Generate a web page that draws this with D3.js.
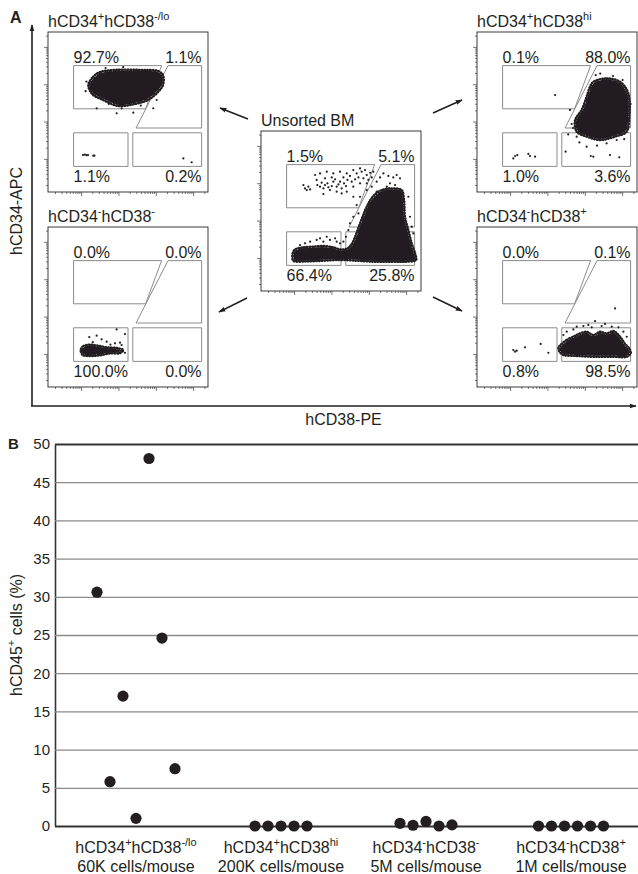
<!DOCTYPE html>
<html>
<head>
<meta charset="utf-8">
<script src="https://cdn.jsdelivr.net/npm/d3@7"></script>
<style>
  body { margin: 0; background: #fff; }
  svg { display: block; font-family: "Liberation Sans", Arial, sans-serif; }
</style>
</head>
<body>
<div id="chart"></div>
<script>
// ---------- panel A: sorted populations (titles as [text, sup, text, sup]) ----------
var titleTL = ['hCD34', '+', 'hCD38', '-/lo'];
var titleTR = ['hCD34', '+', 'hCD38', 'hi'];
var titleBL = ['hCD34', '-', 'hCD38', '-'];
var titleBR = ['hCD34', '-', 'hCD38', '+'];
var titleC = ['Unsorted BM'];

// gate percentages: upper-left, upper-right, lower-left, lower-right
var pctTL = ['92.7%', '1.1%', '1.1%', '0.2%'];
var pctTR = ['0.1%', '88.0%', '1.0%', '3.6%'];
var pctC = ['1.5%', '5.1%', '66.4%', '25.8%'];
var pctBL = ['0.0%', '0.0%', '100.0%', '0.0%'];
var pctBR = ['0.0%', '0.1%', '0.8%', '98.5%'];

// gates in plot units (0-100 both axes, y up)
var gateUL = [[16, 79], [71, 79], [61, 52], [16, 52]];
var gateUR = [[75, 79], [96, 79], [96, 40], [55, 40]];
var gateLL = [[16, 37], [50, 37], [50, 16], [16, 16]];
var gateLR = [[53, 37], [96, 37], [96, 16], [53, 16]];

// dense event clouds (outline, plot units) and sparse events
var cloudTL = [[25.2, 66.9], [28.1, 71.9], [32.5, 75], [41.9, 76.3], [57.5, 76.3], [68.8, 75.6], [71.9, 73.1],
  [71.9, 66.9], [68.8, 62.5], [62.5, 57.5], [54.4, 55], [43.8, 53.8], [34.4, 57.5], [27.5, 61.3]];
var dotsTL = [[42.9, 49.2], [53.3, 49.6], [30.4, 52.3], [55.4, 75.8], [61.7, 75.2], [26.3, 64.8], [67.9, 57.5],
  [65.8, 52.3], [46, 52.3], [24, 69], [23.5, 63], [36, 77.5], [47, 78], [71, 70], [70, 64], [38, 55], [58, 54],
  [21.9, 23.1], [23, 23.4], [24, 23], [25, 23.1], [28.3, 22.7], [29, 22.7], [84.6, 21], [89.8, 18.6]];

var cloudTR = [[72.7, 68.9], [81, 71], [89.4, 68.9], [94.6, 61.7], [95.2, 47.1], [93.5, 37.7], [86.3, 34.6],
  [76.9, 32.5], [68.5, 34.6], [62.3, 37.7], [61.3, 45], [65.4, 51.3], [68.5, 59.6], [70.6, 65.8]];
var dotsTR = [[74.2, 73.1], [48.8, 60.6], [59.2, 42.5], [62.3, 34.6], [55.4, 25.2], [71.1, 22.5], [72.7, 22.1],
  [83.1, 23.1], [88.9, 21.7], [81, 30.4], [87.3, 32.5], [68.5, 28.3], [58.1, 51.3], [77, 74], [85, 72.5],
  [91, 70], [96, 55], [60, 40], [64, 31], [75, 29], [92, 33], [57, 36],
  [22.7, 21], [23.8, 22.5], [25.2, 23.1], [32.1, 23.8], [33.1, 22.5], [36.3, 22.1]];

var cloudC = [[20.2, 18.9], [19.8, 23.5], [21.3, 26], [26.5, 27.3], [32.7, 27.7], [39, 28.1], [45.2, 27.3],
  [49.4, 26], [53.6, 26.4], [56.7, 29.4], [58.8, 33.9], [61.9, 42.3], [66.1, 52.7], [70.2, 59.4], [75.4, 63.1],
  [81.7, 64.1], [87.9, 63.1], [89.4, 56.9], [90, 46.4], [92.1, 38.1], [94.2, 29.8], [96.3, 23.5], [96.9, 19.4],
  [91.1, 18.3], [80.6, 18.3], [70.2, 18.3], [59.8, 18.9], [49.4, 19.4], [39, 18.9], [28.6, 18.5]];
var dotsC = [[26.5, 66.2], [27.5, 64.1], [29.6, 65.2], [28.6, 63.1], [30.7, 63.5], [34.8, 69.4], [35.2, 66.2],
  [36.9, 65.2], [37.9, 67.7], [39, 64.1], [40, 66.2], [41.5, 67.3], [42.1, 64.8], [43.1, 63.1], [44.2, 65.6],
  [45.2, 68.3], [46.3, 69.8], [47.3, 65.2], [48.4, 66.6], [49.4, 68.3], [50.4, 64.1], [51.5, 71], [51.9, 67.3],
  [53.1, 65.6], [54, 69.4], [55.6, 71.9], [56.7, 68.3], [57.7, 65.2], [58.8, 69.8], [59.8, 73.5], [60.9, 71],
  [61.9, 67.3], [62.9, 74.6], [64, 70.4], [65, 75.6], [66.1, 72.5], [67.1, 69.4], [68.2, 73.9], [69.2, 71],
  [70.2, 74.6], [50.4, 61], [47.3, 62.1], [53.6, 62.1], [57.7, 58.9], [39, 60.6], [33.8, 72.5], [36.9, 73.5],
  [41.1, 74.6], [45.2, 73.5], [49.4, 74.6], [57.7, 75.6], [61.9, 76.6], [53.6, 73.5], [44.2, 71], [40, 70.4],
  [76.5, 73.5], [79.6, 71.9], [82.7, 71], [84.8, 72.5], [86.9, 70.4], [72.3, 68.3], [69.2, 65.2], [66.1, 63.1],
  [61.9, 58.9], [59.8, 53.7], [57.7, 46.4], [55.6, 42.3], [54.6, 38.1], [53.1, 33.9], [51.5, 30.8], [92.1, 58.9],
  [93.1, 46.4], [94.2, 40.2], [95.2, 36], [49.4, 29.8], [47.3, 30.8], [43.1, 31.9], [39, 30.8], [34.8, 31.9],
  [30.7, 30.8], [27.5, 29.8], [24.4, 28.7], [41.1, 33.9], [36.9, 32.9], [46.3, 32.9], [66.1, 67.3], [74.4, 71],
  [78.6, 65.2], [83.8, 66.2], [70.2, 56.9], [72.3, 62.1], [80.6, 67.3], [84.8, 63.1], [68.2, 54.8], [65, 50.6],
  [62.9, 44.4], [60.9, 48.5]];

var cloudBL = [[20.4, 23.1], [22.1, 25.6], [26.25, 26.4], [31.5, 25.8], [36.7, 24.8], [42.9, 24.4], [47.1, 23.1],
  [45, 21.2], [38.75, 21], [32.5, 19.8], [26.25, 19.4], [21.7, 20]];
var dotsBL = [[42.9, 36], [48.1, 33.1], [25.8, 31.2], [30.4, 32.1], [33.5, 29.8], [36.7, 28.3], [41.9, 27.3],
  [46, 26.25], [48.1, 21.4], [45, 27.7], [28, 28], [39, 26.5]];

var cloudBR = [[51.9, 26], [56.1, 29.5], [60.2, 31.5], [64.4, 33.5], [68.6, 34.5], [72.7, 32.5], [76.9, 34.5],
  [81.1, 33.5], [85.2, 35], [89.4, 31.5], [92.5, 27], [95.2, 24], [96.1, 21], [93.6, 18.9], [85.2, 18.9],
  [72.7, 18.9], [62.3, 19.4], [54, 20], [51.5, 22.1], [50.9, 24.5]];
var dotsBR = [[86.3, 49.1], [73.8, 41.2], [69.6, 38.8], [77.9, 38.1], [84.2, 37.7], [88.4, 37.3], [62.3, 37.7],
  [66.5, 38.1], [60.2, 36], [56.1, 34.6], [91.5, 34.6], [93.6, 31.4], [54, 32.5], [80, 39.4], [71.7, 37.3],
  [22.7, 23.1], [23.8, 22.1], [24.8, 22.7], [30, 24.8], [39.8, 26.9], [44.6, 21.4]];

// ---------- panel B: engraftment ----------
var categories = ['CD34+CD38-/lo', 'CD34+CD38hi', 'CD34-CD38-', 'CD34-CD38+'];
var catNames = [['hCD34', '+', 'hCD38', '-/lo'], ['hCD34', '+', 'hCD38', 'hi'],
  ['hCD34', '-', 'hCD38', '-'], ['hCD34', '-', 'hCD38', '+']];
var catDoses = ['60K cells/mouse', '200K cells/mouse', '5M cells/mouse', '1M cells/mouse'];
var engraftLo = [30.6, 5.8, 17.0, 1.0, 48.1, 24.6, 7.5];
var engraftHi = [0, 0, 0, 0, 0];
var engraftNeg = [0.35, 0.1, 0.6, 0.0, 0.15];
var engraftPos = [0, 0, 0, 0, 0, 0];
var yTicks = [0, 5, 10, 15, 20, 25, 30, 35, 40, 45, 50];

// ---------- drawing ----------
var W = 638, H = 874, S = 160;
var ink = '#231f20';
var svg = d3.select('#chart').append('svg').attr('width', W).attr('height', H);
var defs = svg.append('defs');

defs.append('marker')
  .attr('id', 'head').attr('viewBox', '0 0 10 10')
  .attr('refX', 9).attr('refY', 5)
  .attr('markerWidth', 7).attr('markerHeight', 7)
  .attr('markerUnits', 'userSpaceOnUse')
  .attr('orient', 'auto')
  .append('path').attr('d', 'M0,1.5L10,5L0,8.5Z').attr('fill', ink);

// speckled fill for the loose rim of a cloud, eroded solid for its core
var pat = defs.append('pattern').attr('id', 'speck')
  .attr('width', 4).attr('height', 4).attr('patternUnits', 'userSpaceOnUse');
[[1, 1], [3, 1.8], [1.8, 3.2], [3.6, 3.8]].forEach(function (c) {
  pat.append('circle').attr('cx', c[0]).attr('cy', c[1]).attr('r', 1).attr('fill', ink);
});
defs.append('filter').attr('id', 'erode')
  .append('feMorphology').attr('operator', 'erode').attr('radius', 1.3);

function richText(sel, parts, size) {
  parts.forEach(function (p, i) {
    var t = sel.append('tspan').text(p);
    if (i % 2) t.attr('font-size', Math.round(size * 0.66)).attr('dy', -size * 0.42);
    else if (i) t.attr('dy', size * 0.42);
  });
  return sel;
}

function flowPanel(px, py, title, pct, cloud, dots) {
  var g = svg.append('g').attr('transform', 'translate(' + px + ',' + py + ')');
  var x = d3.scaleLinear().domain([0, 100]).range([0, S]);
  var y = d3.scaleLinear().domain([0, 100]).range([S, 0]);
  var lx = d3.scaleLog().domain([1.3, 25000]).range([0, S]);
  var ly = d3.scaleLog().domain([1.3, 25000]).range([S, 0]);

  function major(d) { return Math.abs(Math.log10(d) % 1) < 1e-6; }

  var ab = g.append('g').attr('transform', 'translate(0,' + S + ')')
    .call(d3.axisBottom(lx).tickFormat('').tickSizeOuter(0));
  var al = g.append('g').call(d3.axisLeft(ly).tickFormat('').tickSizeOuter(0));
  ab.selectAll('.tick line').attr('y2', function (d) { return major(d) ? 4 : 2; });
  al.selectAll('.tick line').attr('x2', function (d) { return major(d) ? -4 : -2; });
  [ab, al].forEach(function (a) {
    a.select('.domain').remove();
    a.selectAll('.tick line').attr('stroke', '#555').attr('stroke-width', 0.8);
  });

  var poly = d3.line().x(function (d) { return x(d[0]); }).y(function (d) { return y(d[1]); });
  [gateUL, gateUR, gateLL, gateLR].forEach(function (gt) {
    g.append('path').attr('d', poly(gt) + 'Z')
      .attr('fill', 'none').attr('stroke', '#8c8c8c').attr('stroke-width', 1);
  });

  if (cloud) {
    var smooth = d3.line().x(function (d) { return x(d[0]); }).y(function (d) { return y(d[1]); })
      .curve(d3.curveCatmullRomClosed.alpha(0.5));
    var dPath = smooth(cloud);
    g.append('path').attr('d', dPath).attr('fill', 'url(#speck)')
      .attr('stroke', ink).attr('stroke-width', 2.4)
      .attr('stroke-dasharray', '0.6 2.2').attr('stroke-linecap', 'round');
    g.append('path').attr('d', dPath).attr('fill', ink).attr('filter', 'url(#erode)');
  }
  g.selectAll('circle.ev').data(dots).enter().append('circle')
    .attr('class', 'ev')
    .attr('cx', function (d) { return x(d[0]); })
    .attr('cy', function (d) { return y(d[1]); })
    .attr('r', 1.1).attr('fill', ink);

  g.append('rect').attr('width', S).attr('height', S)
    .attr('fill', 'none').attr('stroke', '#3a3a3a').attr('stroke-width', 1);

  richText(g.append('text').attr('x', 0).attr('y', -5)
    .attr('font-size', 16).attr('fill', ink), title, 16);

  var pos = [[16, 80.6, 'start'], [96, 80.6, 'end'], [16, 6.2, 'start'], [96, 6.2, 'end']];
  pct.forEach(function (t, i) {
    g.append('text').attr('x', x(pos[i][0])).attr('y', y(pos[i][1]))
      .attr('text-anchor', pos[i][2]).attr('font-size', 16).attr('fill', ink).text(t);
  });
}

// big axes of panel A
svg.append('line').attr('x1', 32).attr('y1', 406).attr('x2', 32).attr('y2', 25)
  .attr('stroke', ink).attr('stroke-width', 1.6).attr('marker-end', 'url(#head)');
svg.append('line').attr('x1', 31).attr('y1', 406).attr('x2', 636).attr('y2', 406)
  .attr('stroke', ink).attr('stroke-width', 1.6).attr('marker-end', 'url(#head)');

flowPanel(48, 32, titleTL, pctTL, cloudTL, dotsTL);
flowPanel(477, 32, titleTR, pctTR, cloudTR, dotsTR);
flowPanel(261, 131, titleC, pctC, cloudC, dotsC);
flowPanel(48, 227, titleBL, pctBL, cloudBL, dotsBL);
flowPanel(477, 227, titleBR, pctBR, cloudBR, dotsBR);

// arrows from unsorted to sorted
[[248, 119, 220, 108], [433, 113, 462, 100], [247, 298, 219, 312], [433, 297, 462, 311]].forEach(function (a) {
  svg.append('line').attr('x1', a[0]).attr('y1', a[1]).attr('x2', a[2]).attr('y2', a[3])
    .attr('stroke', ink).attr('stroke-width', 1.5).attr('marker-end', 'url(#head)');
});

svg.append('text').attr('x', 10).attr('y', 23).attr('font-size', 16).attr('font-weight', 'bold')
  .attr('fill', ink).text('A');
svg.append('text').attr('transform', 'translate(22,211) rotate(-90)').attr('text-anchor', 'middle')
  .attr('font-size', 16).attr('fill', ink).text('hCD34-APC');
svg.append('text').attr('x', 343.5).attr('y', 425).attr('text-anchor', 'middle')
  .attr('font-size', 16).attr('fill', ink).text('hCD38-PE');

// ---------- panel B ----------
var yB = d3.scaleLinear().domain([0, 50]).range([826, 444]);
var xB = d3.scalePoint().domain(categories).range([136, 571]);
var left = 55;

var gy = svg.append('g').attr('transform', 'translate(' + left + ',0)')
  .call(d3.axisLeft(yB).tickValues(yTicks).tickSizeInner(-(W - left)).tickSizeOuter(0).tickPadding(5));
gy.select('.domain').attr('stroke', '#333').attr('stroke-width', 1.6);
gy.selectAll('.tick line')
  .attr('stroke', function (d) { return d === 0 || d === 50 ? '#333' : '#8a8a8a'; })
  .attr('stroke-width', function (d) { return d === 0 || d === 50 ? 1.8 : 1.3; });
gy.selectAll('.tick text').attr('font-size', 15).attr('fill', ink)
  .attr('font-family', '"Liberation Sans", Arial, sans-serif');

var groups = [engraftLo, engraftHi, engraftNeg, engraftPos];
groups.forEach(function (vals, gi) {
  var cx = xB(categories[gi]);
  svg.append('g').selectAll('circle').data(vals).enter().append('circle')
    .attr('cx', function (d, i) { return cx + (i - (vals.length - 1) / 2) * 13; })
    .attr('cy', function (d) { return yB(d); })
    .attr('r', 5.6).attr('fill', ink);

  richText(svg.append('text').attr('x', cx).attr('y', 853).attr('text-anchor', 'middle')
    .attr('font-size', 16).attr('fill', ink), catNames[gi], 16);
  svg.append('text').attr('x', cx).attr('y', 872).attr('text-anchor', 'middle')
    .attr('font-size', 16).attr('fill', ink).text(catDoses[gi]);
});

svg.append('text').attr('x', 8).attr('y', 449).attr('font-size', 15).attr('font-weight', 'bold')
  .attr('fill', ink).text('B');
richText(svg.append('text').attr('transform', 'translate(22,635) rotate(-90)').attr('text-anchor', 'middle')
  .attr('font-size', 16).attr('fill', ink), ['hCD45', '+', ' cells (%)'], 16);
</script>
</body>
</html>
